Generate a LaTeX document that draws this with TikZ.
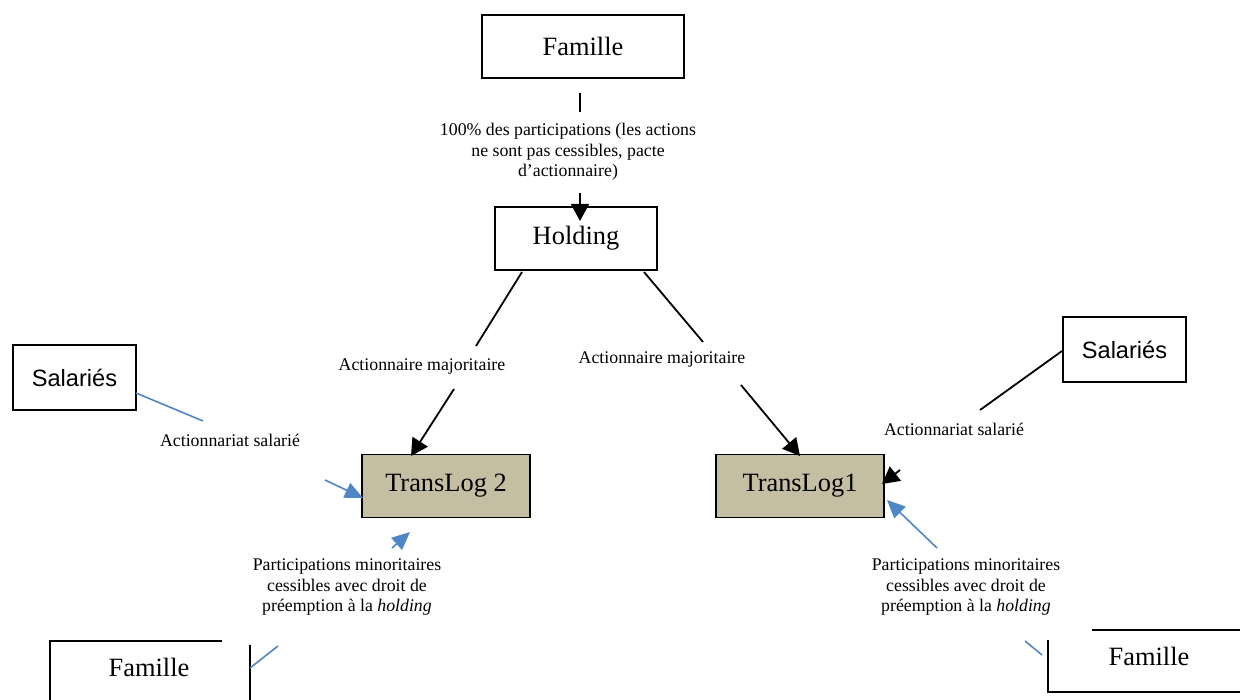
\documentclass[tikz,border=0pt]{standalone}
\usepackage{fontspec}
\setmainfont{Liberation Serif}
\setsansfont{Liberation Sans}
\usetikzlibrary{arrows.meta,positioning}
\definecolor{tanbox}{RGB}{196,191,163}
\definecolor{wordblue}{RGB}{79,134,198}

\begin{document}
\begin{tikzpicture}[x=0.5pt,y=-0.5pt,
  entity/.style={draw, line width=0.9pt, inner sep=0pt, minimum height=31.5pt,
    font=\fontsize{13.2}{15}\selectfont},
  firm/.style={entity, fill=tanbox, minimum width=84pt},
  staff/.style={entity, minimum width=61.5pt, minimum height=32.5pt,
    font=\sffamily\fontsize{11.8}{14}\selectfont},
  lbl/.style={align=center, inner sep=1pt, font=\fontsize{8.9}{10.2}\selectfont},
  link/.style={line width=0.9pt},
  share/.style={link, -{Triangle[length=8.5pt,width=9pt]}},
  bluelink/.style={line width=0.8pt, draw=wordblue},
  blueshare/.style={bluelink, -{Triangle[length=9pt,width=8pt]}}]
\useasboundingbox (0,0) rectangle (1240,700);

% Boxes
\node[entity, minimum width=101pt] (famille) at (583,46.5) {Famille};
\node[entity, minimum width=81pt] (holding) at (576,238.5) {Holding};
\node[staff] (salG) at (74.5,377.5) {Salariés};
\node[staff] (salD) at (1124.5,349.5) {Salariés};
\node[firm] (tl2) at (446,486) {TransLog 2};
\node[firm] (tl1) at (800,486) {TransLog1};

% Cut-off family boxes at the bottom
\node[font=\fontsize{13.2}{15}\selectfont] (famG) at (149,667) {Famille};
\draw[link] (222,641) -| (50,700);
\draw[link] (250,645) -- (250,700);
\node[font=\fontsize{13.2}{15}\selectfont] (famD) at (1149,656) {Famille};
\draw[link] (1092,630) -- (1240,630);
\draw[link] (1048,640) |- (1240,692);

% Labels
\node[lbl] (lab100) at (568,152) {100\% des participations (les actions\\ne sont pas cessibles, pacte\\d’actionnaire)};
\node[lbl] (majG) at (422,366) {Actionnaire majoritaire};
\node[lbl] (majD) at (662,359) {Actionnaire majoritaire};
\node[lbl] (salGlab) at (230,440) {Actionnariat salarié};
\node[lbl] (salDlab) at (954,429) {Actionnariat salarié};
\node[lbl] (partG) at (347,587) {Participations minoritaires\\cessibles avec droit de\\préemption à la \textit{holding}};
\node[lbl] (partD) at (966,587) {Participations minoritaires\\cessibles avec droit de\\préemption à la \textit{holding}};

% Free ends of the connectors
\coordinate (a1) at (580,93);   \coordinate (a2) at (580,112);
\coordinate (a3) at (580,193);  \coordinate (a4) at (580,221);
\coordinate (b1) at (522,272);  \coordinate (b2) at (476,346);
\coordinate (b3) at (454,389);  \coordinate (b4) at (411,456);
\coordinate (c1) at (644,272);  \coordinate (c2) at (703,342);
\coordinate (c3) at (741,385);  \coordinate (c4) at (800,456);
\coordinate (d1) at (1062,351); \coordinate (d2) at (980,410);
\coordinate (d3) at (900,470);  \coordinate (d4) at (882,484);
\coordinate (e1) at (136,393);  \coordinate (e2) at (203,421);
\coordinate (e3) at (325,480);  \coordinate (e4) at (363,498);
\coordinate (g1) at (250,668);  \coordinate (g2) at (278,646);
\coordinate (g3) at (392,548);  \coordinate (g4) at (410,532);
\coordinate (k1) at (1042,655); \coordinate (k2) at (1025,641);
\coordinate (k3) at (937,548);  \coordinate (k4) at (887,500);

% Connectors
\draw[link] (a1) -- (a2);
\draw[share] (a3) -- (a4);
\draw[link] (b1) -- (b2);
\draw[share] (b3) -- (b4);
\draw[link] (c1) -- (c2);
\draw[share] (c3) -- (c4);
\draw[link] (d1) -- (d2);
\draw[share] (d3) -- (d4);
\draw[bluelink] (e1) -- (e2);
\draw[blueshare] (e3) -- (e4);
\draw[bluelink] (g1) -- (g2);
\draw[blueshare] (g3) -- (g4);
\draw[bluelink] (k1) -- (k2);
\draw[blueshare] (k3) -- (k4);

\end{tikzpicture}
\end{document}
